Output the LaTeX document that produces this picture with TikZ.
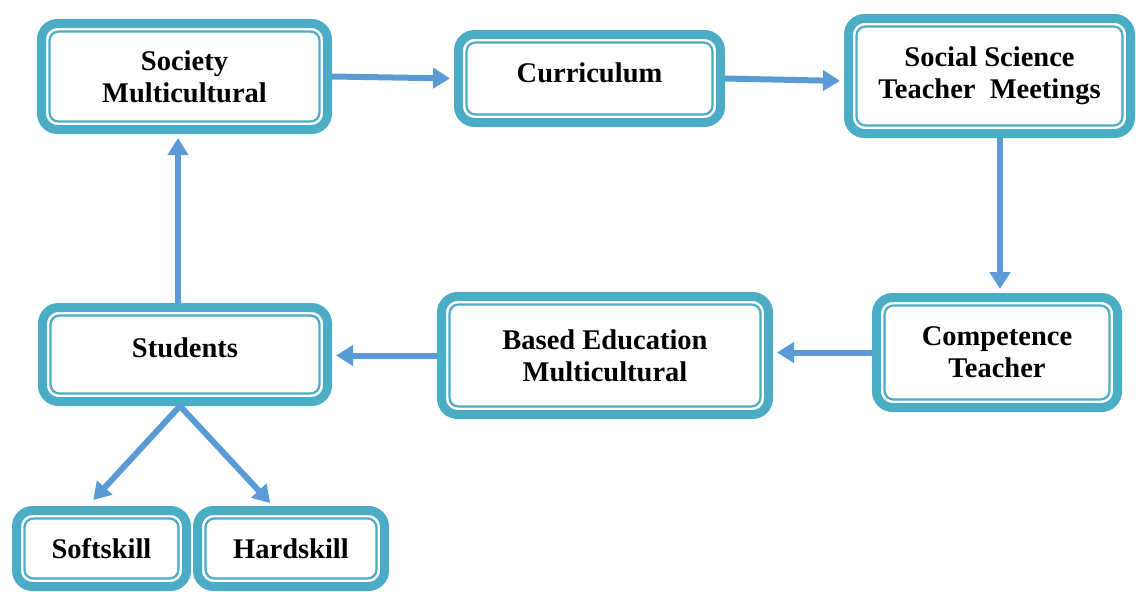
\documentclass[tikz,border=0pt]{standalone}
\usepackage{fontspec}
\setmainfont{Liberation Serif}
\usetikzlibrary{arrows.meta,calc}
\definecolor{boxc}{HTML}{4BACC6}
\definecolor{arrc}{HTML}{5B9BD5}
\tikzset{
  dbox/.style={draw=boxc, line width=9pt, rounded corners=16pt, fill=white,
    align=center, inner sep=0pt, font=\bfseries\fontsize{28.5}{32}\selectfont,
    path picture={\draw[draw=boxc, line width=2.2pt, rounded corners=9pt]
      ([shift={(8pt,-8pt)}]path picture bounding box.north west) rectangle
      ([shift={(-8pt,8pt)}]path picture bounding box.south east);}},
  conn/.style={draw=arrc, line width=6pt, -{Triangle[width=20pt,length=17pt]}, shorten >=4pt},
}
\begin{document}
\begin{tikzpicture}[x=1pt,y=-1pt]
\useasboundingbox (0,0) rectangle (1136,592);
\node[dbox, minimum width=286pt, minimum height=106pt] (soc) at (184.5,76.5) {Society\\Multicultural};
\node[dbox, minimum width=262pt, minimum height=88pt] (cur) at (589.5,78.5) {\raisebox{6pt}[\height][\depth]{Curriculum}};
\node[dbox, minimum width=282pt, minimum height=115pt] (sstm) at (989.5,76) {Social Science\\Teacher\ \ Meetings};
\node[dbox, minimum width=241pt, minimum height=110pt] (comp) at (997,352.5) {Competence\\Teacher};
\node[dbox, minimum width=327pt, minimum height=118pt] (based) at (605,355.5) {Based Education\\Multicultural};
\node[dbox, minimum width=285pt, minimum height=94pt] (stu) at (185,354.5) {\raisebox{7pt}[\height][\depth]{Students}};
\node[dbox, minimum width=170pt, minimum height=76pt] (soft) at (101.5,548.5) {Softskill};
\node[dbox, minimum width=187pt, minimum height=76pt] (hard) at (291,548.5) {Hardskill};
\coordinate (vx) at (1000,0);
\coordinate (ux) at (178,0);
\draw[conn] (soc.east) -- (cur.west);
\draw[conn] (cur.east) -- ($(sstm.west)+(0,5)$);
\draw[conn] (sstm.south -| vx) -- (comp.north -| vx);
\draw[conn] (comp.west) -- (comp.west -| based.east);
\draw[conn] (based.west) -- (based.west -| stu.east);
\draw[conn] (stu.north -| ux) -- (soc.south -| ux);
\draw[conn] ($(stu.south)+(-5,0)$) -- ($(soft.north)+(-11,-3)$);
\draw[conn] ($(stu.south)+(-5,0)$) -- ($(hard.north)+(-18,0)$);
\end{tikzpicture}
\end{document}
